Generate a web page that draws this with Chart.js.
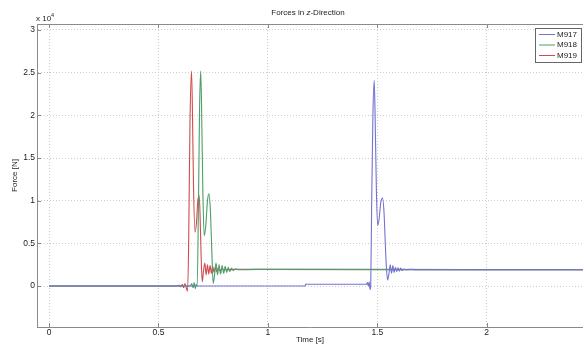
<!DOCTYPE html>
<html lang="en">
<head>
  <meta charset="UTF-8" />
  <title>Forces in z-Direction</title>
  <script src="https://cdn.jsdelivr.net/npm/chart.js"></script>
  <style>
    body { margin: 0; padding: 0; background: #fff; }
    canvas { display: block; }
  </style>
</head>
<body>
  <canvas id="forces" width="583" height="347"></canvas>

  <script>
    // time [s] and force [x 10^4 N]
    const t917 = [0, 1.17, 1.172, 1.45, 1.455, 1.459, 1.463, 1.467, 1.470, 1.474, 1.480, 1.486, 1.490, 1.496,
      1.502, 1.508, 1.516, 1.524, 1.531, 1.539, 1.547, 1.553, 1.559, 1.565, 1.571, 1.577, 1.583, 1.589,
      1.595, 1.601, 1.607, 1.614, 1.622, 1.632, 1.65, 1.7, 2.44];
    const f917 = [0, 0, 0.02, 0.02, 0.04, 0.0, 0.05, -0.04, 0.0, 0.9, 2.0, 2.41, 2.0, 1.1,
      0.71, 0.78, 0.98, 1.03, 0.85, 0.35, 0.07, 0.14, 0.25, 0.15, 0.24, 0.16, 0.22, 0.17,
      0.215, 0.175, 0.21, 0.18, 0.2, 0.19, 0.195, 0.19, 0.19];

    const t918 = [0, 0.62, 0.645, 0.652, 0.658, 0.663, 0.668, 0.673, 0.677, 0.683, 0.688, 0.693, 0.697, 0.703,
      0.709, 0.716, 0.724, 0.731, 0.737, 0.744, 0.750, 0.756, 0.763, 0.770, 0.777, 0.784, 0.791, 0.798,
      0.805, 0.812, 0.819, 0.826, 0.834, 0.842, 0.85, 0.87, 0.95, 2.44];
    const f918 = [0, 0, 0.0, 0.03, -0.02, 0.04, -0.03, 0.02, 0.0, 1.0, 2.1, 2.52, 2.1, 1.1,
      0.59, 0.7, 1.0, 1.08, 0.9, 0.4, 0.03, 0.12, 0.27, 0.13, 0.25, 0.14, 0.24, 0.15,
      0.23, 0.16, 0.22, 0.17, 0.21, 0.18, 0.2, 0.19, 0.195, 0.19];

    const t919 = [0, 0.35, 0.58, 0.595, 0.602, 0.609, 0.615, 0.621, 0.627, 0.633, 0.638, 0.644, 0.651, 0.655,
      0.660, 0.667, 0.674, 0.680, 0.686, 0.690, 0.695, 0.700, 0.706, 0.712, 0.718, 0.724, 0.730, 0.736,
      0.742, 0.748, 0.754, 0.760, 0.766, 0.773, 0.780, 0.79, 0.80, 0.85, 2.44];
    const f919 = [0, 0, 0, 0.01, -0.01, 0.02, -0.02, 0.03, -0.02, -0.06, 0.5, 1.9, 2.52, 2.1,
      1.2, 0.63, 0.75, 1.0, 1.06, 0.85, 0.35, 0.05, 0.18, 0.27, 0.13, 0.25, 0.14, 0.24,
      0.15, 0.23, 0.16, 0.22, 0.17, 0.21, 0.18, 0.2, 0.19, 0.195, 0.19];

    const seriesNames = ['M917', 'M918', 'M919'];
    const seriesColors = ['#7373d2', '#4c9f6a', '#d04c4c'];
    const xTicks = [0, 0.5, 1, 1.5, 2];
    const yTicks = [0, 0.5, 1, 1.5, 2, 2.5, 3];

    const times = [t917, t918, t919];
    const forces = [f917, f918, f919];
    const FONT = '"Liberation Sans", Arial, sans-serif';

    // matlab-ish box: top edge, inward ticks, title, exponent, legend
    const matlabFrame = {
      id: 'matlabFrame',
      afterDraw(chart) {
        const { ctx, chartArea: a, scales: { x, y } } = chart;
        ctx.save();
        ctx.strokeStyle = '#8a8a8a';
        ctx.lineWidth = 1;
        ctx.beginPath();
        ctx.moveTo(a.left, a.top + 0.5);
        ctx.lineTo(a.right, a.top + 0.5);
        xTicks.forEach(v => {
          const px = Math.round(x.getPixelForValue(v)) + 0.5;
          ctx.moveTo(px, a.bottom); ctx.lineTo(px, a.bottom - 4);
          ctx.moveTo(px, a.top); ctx.lineTo(px, a.top + 4);
        });
        yTicks.forEach(v => {
          const py = Math.round(y.getPixelForValue(v)) + 0.5;
          ctx.moveTo(a.left, py); ctx.lineTo(a.left + 4, py);
        });
        ctx.stroke();

        // title with italic z
        ctx.fillStyle = '#222';
        ctx.textBaseline = 'middle';
        ctx.textAlign = 'left';
        const parts = [['Forces in ', ''], ['z', 'italic '], ['-Direction', '']];
        let w = 0;
        parts.forEach(p => { ctx.font = p[1] + '8px ' + FONT; w += ctx.measureText(p[0]).width; });
        let tx = (a.left + a.right) / 2 - 2 - w / 2;
        parts.forEach(p => {
          ctx.font = p[1] + '8px ' + FONT;
          ctx.fillText(p[0], tx, 13);
          tx += ctx.measureText(p[0]).width;
        });

        // exponent
        ctx.font = '8px ' + FONT;
        ctx.fillText('x 10', a.left - 1, 19);
        ctx.font = '5.5px ' + FONT;
        ctx.fillText('4', a.left + 14, 15);

        // legend
        const lx = a.right - 48, ly = a.top + 4;
        ctx.fillStyle = '#fff';
        ctx.fillRect(lx, ly, 46, 34);
        ctx.strokeStyle = '#666';
        ctx.strokeRect(lx + 0.5, ly + 0.5, 46, 34);
        ctx.font = '8px ' + FONT;
        seriesNames.forEach((name, i) => {
          const ry = ly + 6 + i * 10.5;
          ctx.strokeStyle = seriesColors[i];
          ctx.beginPath();
          ctx.moveTo(lx + 4, ry + 0.5);
          ctx.lineTo(lx + 20, ry + 0.5);
          ctx.stroke();
          ctx.fillStyle = '#222';
          ctx.fillText(name, lx + 22, ry + 0.5);
        });
        ctx.restore();
      }
    };

    new Chart(document.getElementById('forces'), {
      type: 'line',
      data: {
        datasets: seriesNames.map((name, i) => ({
          label: name,
          data: times[i].map((t, k) => ({ x: t, y: forces[i][k] })),
          borderColor: seriesColors[i],
          borderWidth: 1.1,
          pointRadius: 0,
          cubicInterpolationMode: 'monotone',
          fill: false
        }))
      },
      options: {
        responsive: false,
        animation: false,
        layout: { padding: { top: 24, right: 0, left: 0, bottom: 0 } },
        plugins: {
          legend: { display: false },
          title: { display: false },
          tooltip: { enabled: false }
        },
        scales: {
          x: {
            type: 'linear',
            min: -0.055,
            max: 2.44,
            afterBuildTicks: s => { s.ticks = xTicks.map(v => ({ value: v })); },
            afterFit: s => { s.height = 20; },
            ticks: { padding: 1, color: '#222', font: { family: FONT, size: 8.5 }, maxRotation: 0, callback: v => String(v) },
            grid: { color: '#cccccc', drawTicks: false },
            border: { color: '#8a8a8a', dash: [1, 2] },
            title: { display: true, text: 'Time [s]', color: '#222', font: { family: FONT, size: 8 }, padding: { top: 0, bottom: 2 } }
          },
          y: {
            min: -0.48,
            max: 3.07,
            afterBuildTicks: s => { s.ticks = yTicks.map(v => ({ value: v })); },
            afterFit: s => { s.width = 37; },
            ticks: { padding: 2, color: '#222', font: { family: FONT, size: 8.5 }, callback: v => String(v) },
            grid: { color: '#cccccc', drawTicks: false },
            border: { color: '#8a8a8a', dash: [1, 2] },
            title: { display: true, text: 'Force [N]', color: '#222', font: { family: FONT, size: 8 }, padding: { top: 10, bottom: 0 } }
          }
        }
      },
      plugins: [matlabFrame]
    });
  </script>
</body>
</html>
